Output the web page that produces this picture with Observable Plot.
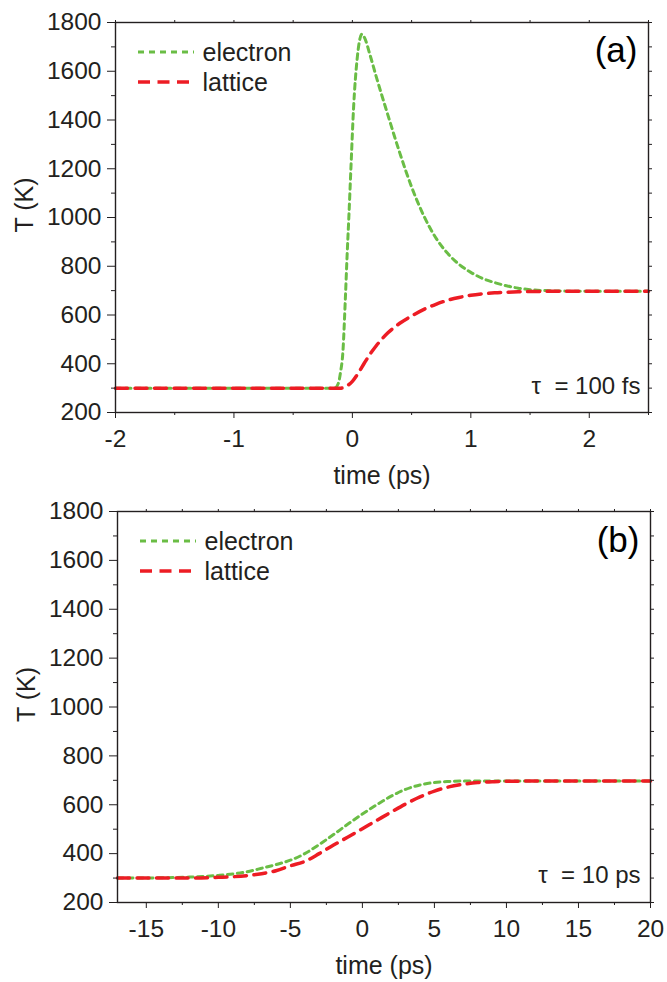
<!DOCTYPE html>
<html><head><meta charset="utf-8">
<script src="https://cdn.jsdelivr.net/npm/d3@7"></script>
<script src="https://cdn.jsdelivr.net/npm/@observablehq/plot@0.6"></script>
<style>
body{margin:0;background:#fff;}
#chart svg{display:block;}
</style></head><body><div id="chart"></div>
<script>
// ---- data ----
const yTicks = [200, 400, 600, 800, 1000, 1200, 1400, 1600, 1800];
const yMinor = [300, 500, 700, 900, 1100, 1300, 1500, 1700];
const aXTicks = [-2, -1, 0, 1, 2];
const aXMinor = [-1.5, -0.5, 0.5, 1.5, 2.5];
const bXTicks = [-15, -10, -5, 0, 5, 10, 15, 20];
const bXMinor = [-12.5, -7.5, -2.5, 2.5, 7.5, 12.5, 17.5];
const seriesNames = ["electron", "lattice"];
const panelLabels = ["(a)", "(b)"];
const pulseLabels = ["τ\u00a0 = 100 fs", "τ\u00a0 = 10 ps"];

// panel (a): tau = 100 fs
const aElecTime = [-2, -1, -0.15, -0.12, -0.1, -0.08, -0.06, -0.045, -0.03, -0.01, 0.01, 0.04, 0.06, 0.08, 0.1, 0.15, 0.2, 0.3, 0.4, 0.5, 0.6, 0.7, 0.8, 0.9, 1.0, 1.1, 1.2, 1.3, 1.4, 1.5, 1.7, 2.0, 2.5];
const aElecTemp = [300, 300, 300, 318, 365, 450, 660, 840, 1000, 1230, 1450, 1650, 1725, 1752, 1740, 1665, 1580, 1420, 1265, 1125, 1010, 920, 855, 808, 775, 750, 733, 720, 710, 704, 699, 697, 697];
const aLatTime = [-2, -1, -0.1, -0.05, 0, 0.05, 0.1, 0.15, 0.2, 0.3, 0.4, 0.5, 0.6, 0.7, 0.8, 0.9, 1.0, 1.1, 1.2, 1.4, 1.7, 2.5];
const aLatTemp = [300, 300, 300, 308, 328, 362, 402, 440, 473, 527, 566, 596, 622, 643, 660, 672, 681, 687, 691, 695, 697, 697];

// panel (b): tau = 10 ps
const bElecTime = [-17, -14, -12, -10, -8, -7, -6, -5, -4, -3, -2, -1, 0, 1, 2, 3, 4, 5, 6, 7, 9, 20];
const bElecTemp = [300, 301, 304, 311, 326, 340, 355, 373, 400, 437, 478, 521, 562, 600, 635, 663, 681, 691, 695, 697, 697, 697];
const bLatTime = [-17, -12, -10, -8, -7, -6, -5, -4, -3, -2, -1, 0, 1, 2, 3, 4, 5, 6, 7, 8, 9, 10, 12, 20];
const bLatTemp = [300, 300, 303, 310, 318, 330, 350, 368, 400, 435, 468, 502, 536, 570, 603, 632, 656, 673, 684, 691, 694, 696, 697, 697];

// ---- styles ----
const FONT = "'Liberation Sans', Arial, Helvetica, sans-serif";
const INK = "#231f20";
const GREEN = "#6abd45";
const RED = "#ed1c24";
const ELEC_DASH = "5.5,4.5";
const LAT_DASH = "12,7.5";
const TICK_FS = 24.5;
const LABEL_FS = 25;
const fmt = d => (d < 0 ? "-" + Math.abs(d) : String(d));

function rows(ts, vs) { return ts.map((t, i) => ({t, T: vs[i]})); }

function legendLines(index, scales, values, dims) {
  const g = d3.create("svg:g");
  const x0 = dims.marginLeft + 23;
  const y0 = dims.marginTop + 30;
  g.append("line").attr("x1", x0).attr("x2", x0 + 56).attr("y1", y0).attr("y2", y0)
    .attr("stroke", GREEN).attr("stroke-width", 3).attr("stroke-dasharray", "6,5");
  g.append("line").attr("x1", x0).attr("x2", x0 + 57).attr("y1", y0 + 30).attr("y2", y0 + 30)
    .attr("stroke", RED).attr("stroke-width", 3.5).attr("stroke-dasharray", "12,7.5");
  return g.node();
}

function panel(o) {
  return Plot.plot({
    width: 667,
    height: 491,
    marginLeft: o.ml, marginRight: o.mr, marginTop: o.mt, marginBottom: o.mb,
    style: {fontFamily: FONT, fontSize: TICK_FS + "px", color: INK, background: "#fff"},
    x: {domain: o.xDomain},
    y: {domain: [200, 1800]},
    marks: [
      Plot.line(o.elec, {x: "t", y: "T", stroke: GREEN, strokeWidth: 3, strokeDasharray: ELEC_DASH, curve: "monotone-x"}),
      Plot.line(o.lat, {x: "t", y: "T", stroke: RED, strokeWidth: 3.5, strokeDasharray: LAT_DASH, curve: "monotone-x"}),
      Plot.frame({stroke: INK, strokeWidth: 1.4}),
      Plot.axisY({ticks: yTicks, tickSize: 8, tickPadding: 6, tickFormat: fmt, label: null, fontSize: TICK_FS, stroke: INK}),
      Plot.axisY({ticks: yMinor, tickSize: 4, tickFormat: () => "", label: null, stroke: INK}),
      Plot.axisY({anchor: "right", ticks: [...yTicks, ...yMinor], tickSize: 3, tickFormat: () => "", label: null, stroke: INK}),
      Plot.axisX({ticks: o.xTicks, tickSize: 6, tickPadding: 11, tickFormat: fmt, label: null, fontSize: TICK_FS, stroke: INK}),
      Plot.axisX({ticks: o.xMinor, tickSize: 3, tickFormat: () => "", label: null, stroke: INK}),
      Plot.axisX({anchor: "top", ticks: [...o.xTicks, ...o.xMinor], tickSize: 3, tickFormat: () => "", label: null, stroke: INK}),
      Plot.text(["T (K)"], {frameAnchor: "left", dx: -91, dy: 15, rotate: -90, lineAnchor: "middle", fontSize: LABEL_FS, fill: INK}),
      Plot.text(["time (ps)"], {frameAnchor: "bottom", dy: 63, lineAnchor: "middle", fontSize: LABEL_FS, fill: INK}),
      Plot.text([o.label], {frameAnchor: "top-right", dx: -11, dy: o.labelDy, textAnchor: "end", lineAnchor: "middle", fontSize: 35, fill: "#000"}),
      Plot.text([o.tau], {frameAnchor: "bottom-right", dx: o.tauDx, dy: o.tauDy, textAnchor: "end", lineAnchor: "middle", fontSize: 24, fill: INK}),
      legendLines,
      Plot.text([seriesNames[0]], {frameAnchor: "top-left", dx: 87, dy: 30.5, textAnchor: "start", lineAnchor: "middle", fontSize: LABEL_FS, fill: INK}),
      Plot.text([seriesNames[1]], {frameAnchor: "top-left", dx: 87, dy: 60.5, textAnchor: "start", lineAnchor: "middle", fontSize: LABEL_FS, fill: INK})
    ]
  });
}

const chart = document.getElementById("chart");
chart.append(panel({
  ml: 115, mr: 19, mt: 22, mb: 79,
  xDomain: [-2, 2.5], xTicks: aXTicks, xMinor: aXMinor,
  elec: rows(aElecTime, aElecTemp), lat: rows(aLatTime, aLatTemp),
  label: panelLabels[0], labelDy: 28, tau: pulseLabels[0], tauDx: -8, tauDy: -26
}));
chart.append(panel({
  ml: 117, mr: 17, mt: 20, mb: 80,
  xDomain: [-17, 20], xTicks: bXTicks, xMinor: bXMinor,
  elec: rows(bElecTime, bElecTemp), lat: rows(bLatTime, bLatTemp),
  label: panelLabels[1], labelDy: 29, tau: pulseLabels[1], tauDx: -10, tauDy: -27
}));
</script>
</body></html>
